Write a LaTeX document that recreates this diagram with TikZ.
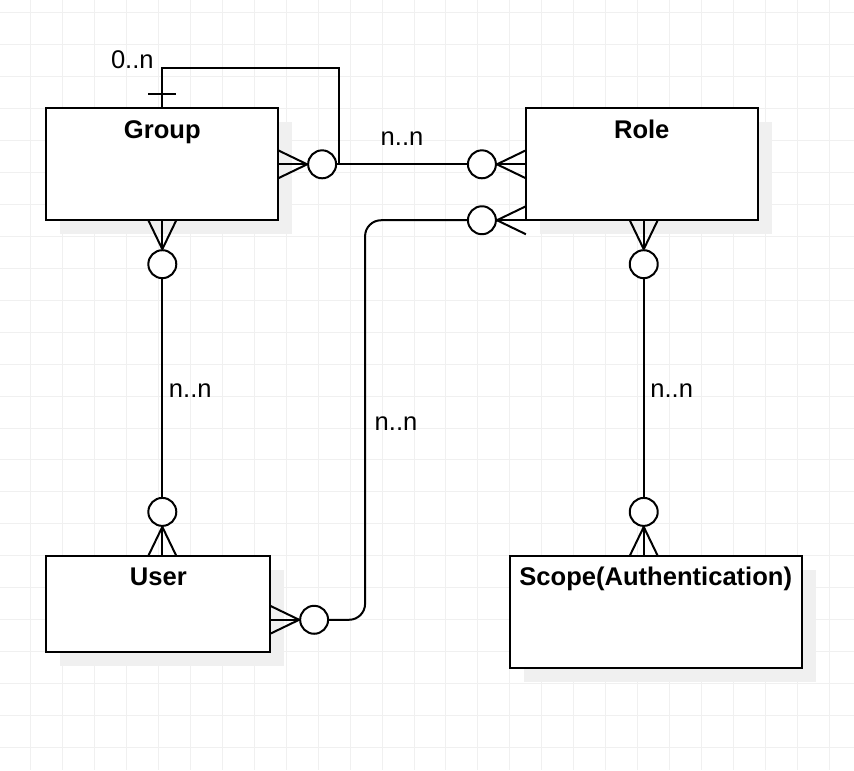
\documentclass[tikz,border=0pt]{standalone}
\usepackage{fontspec}
\setmainfont{Liberation Sans}
\usetikzlibrary{shadows}
\begin{document}
\begin{tikzpicture}[x=1pt,y=-1pt,line width=2pt,
        entity/.style={draw,fill=white,rectangle,anchor=north west,inner sep=0pt,outer sep=0pt,
            drop shadow={shadow xshift=14pt,shadow yshift=-14pt,fill=black!6,opacity=1}},
        title/.style={anchor=base,inner sep=0pt,font=\fontsize{25.6}{30}\selectfont\bfseries},
        card/.style={inner sep=0pt,font=\fontsize{25.6}{30}\selectfont},
        zero/.style={draw,circle,fill=white,minimum size=28pt,inner sep=0pt}]
    % background grid
    \fill[white] (0,0) rectangle (854,770);
    \foreach \x in {30,62,...,830}
        \draw[black!6,line width=1pt] (\x,0) -- (\x,770);
    \foreach \y in {12,44,...,764}
        \draw[black!6,line width=1pt] (0,\y) -- (854,\y);
    % entities
    \node[entity,minimum width=232pt,minimum height=112pt] (group) at (46,108) {};
    \node[entity,minimum width=232pt,minimum height=112pt] (role) at (526,108) {};
    \node[entity,minimum width=224pt,minimum height=96pt] (user) at (46,556) {};
    \node[entity,minimum width=292pt,minimum height=112pt] (scope) at (510,556) {};
    \node[title] (grouptitle) at ([yshift=-30pt]group.north) {Group};
    \node[title] (roletitle) at ([yshift=-30pt]role.north) {Role};
    \node[title] (usertitle) at ([yshift=-30pt]user.north) {User};
    \node[title] (scopetitle) at ([yshift=-30pt]scope.north) {Scope(Authentication)};
    % zero ends
    \node[zero] (gro) at (322,164) {};
    \node[zero] (rlo) at (482,164) {};
    \node[zero] (rlo2) at (482,220) {};
    \node[zero] (gbo) at (162,264) {};
    \node[zero] (uto) at (162,512) {};
    \node[zero] (uro) at (314,620) {};
    \node[zero] (rbo) at (644,264) {};
    \node[zero] (sto) at (644,512) {};
    % many ends
    \draw (gro.west) -- (group.east);
    \draw (gro.west) -- ([yshift=14pt]group.east);
    \draw (gro.west) -- ([yshift=-14pt]group.east);
    \draw (rlo.east) -- (role.west);
    \draw (rlo.east) -- ([yshift=14pt]role.west);
    \draw (rlo.east) -- ([yshift=-14pt]role.west);
    \draw (rlo2.east) -- (role.south west);
    \draw (rlo2.east) -- ([yshift=14pt]role.south west);
    \draw (rlo2.east) -- ([yshift=-14pt]role.south west);
    \draw (gbo.north) -- (group.south);
    \draw (gbo.north) -- ([xshift=-14pt]group.south);
    \draw (gbo.north) -- ([xshift=14pt]group.south);
    \draw (uto.south) -- (uto |- user.north);
    \draw (uto.south) -- ([xshift=-14pt]uto |- user.north);
    \draw (uto.south) -- ([xshift=14pt]uto |- user.north);
    \draw (uro.west) -- (user.east |- uro);
    \draw (uro.west) -- ([yshift=14pt]user.east |- uro);
    \draw (uro.west) -- ([yshift=-14pt]user.east |- uro);
    \draw (rbo.north) -- (rbo |- role.south);
    \draw (rbo.north) -- ([xshift=-14pt]rbo |- role.south);
    \draw (rbo.north) -- ([xshift=14pt]rbo |- role.south);
    \draw (sto.south) -- (sto |- scope.north);
    \draw (sto.south) -- ([xshift=-14pt]sto |- scope.north);
    \draw (sto.south) -- ([xshift=14pt]sto |- scope.north);
    % relations
    \draw (gro) -- (rlo);
    \draw (gbo) -- (uto);
    \draw (rbo) -- (sto);
    \draw[rounded corners=16pt] (uro) -| ([xshift=-102pt]rlo2.west) -- (rlo2);
    \draw (group.north) -- ++(0,-40) -| ([xshift=2pt]gro.east);
    \draw ([xshift=-14pt,yshift=14pt]group.north) -- ([xshift=14pt,yshift=14pt]group.north);
    % cardinalities
    \node[card] (loopcard) at (132,59) {0..n};
    \node[card] (grcard) at (402,138.5) {n..n};
    \node[card] (gucard) at (190,390.5) {n..n};
    \node[card] (urcard) at (396,424) {n..n};
    \node[card] (rscard) at (672,390.5) {n..n};
\end{tikzpicture}
\end{document}
